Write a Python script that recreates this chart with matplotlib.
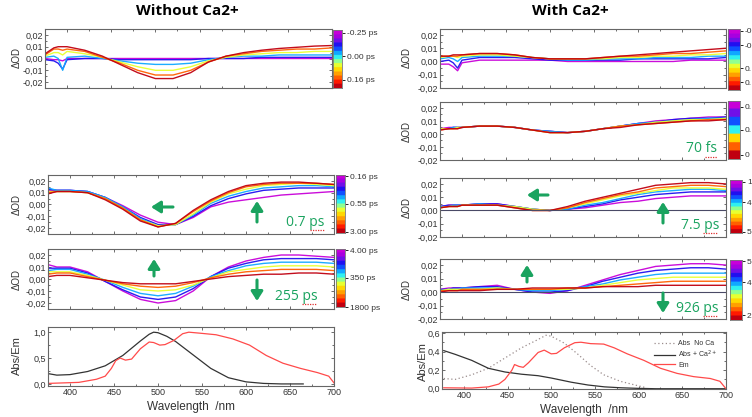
import numpy as np
import matplotlib
import matplotlib.pyplot as plt
from matplotlib.colors import ListedColormap
from matplotlib.lines import Line2D
from matplotlib.ticker import FuncFormatter, MultipleLocator

plt.rcParams['font.family'] = ['Liberation Sans', 'DejaVu Sans']

# ---- data -------------------------------------------------------------
WL = [375, 385, 390, 395, 400, 420, 440, 460, 480, 500,
      520, 540, 560, 580, 600, 620, 640, 660, 680, 700]

# transient spectra, earliest (violet) -> latest (red)
L1 = [
    [0.000, -0.001, -0.001, -0.002, 0.000, 0.000, 0.000, 0.000, 0.000, 0.000, 0.000, 0.000, 0.000, 0.000, 0.000, 0.000, 0.000, 0.000, 0.000, 0.000],
    [-0.001, -0.002, -0.004, -0.009, -0.001, 0.000, 0.000, -0.001, -0.001, -0.001, -0.001, -0.001, 0.000, 0.000, 0.000, 0.001, 0.001, 0.001, 0.001, 0.001],
    [0.001, 0.002, 0.000, -0.010, 0.001, 0.002, 0.000, -0.002, -0.004, -0.005, -0.005, -0.004, -0.001, 0.001, 0.002, 0.002, 0.003, 0.003, 0.003, 0.003],
    [0.002, 0.005, 0.005, 0.003, 0.006, 0.004, 0.001, -0.003, -0.007, -0.010, -0.010, -0.007, -0.002, 0.001, 0.003, 0.004, 0.005, 0.005, 0.006, 0.006],
    [0.003, 0.008, 0.008, 0.007, 0.008, 0.006, 0.001, -0.004, -0.010, -0.014, -0.014, -0.010, -0.003, 0.002, 0.004, 0.006, 0.007, 0.008, 0.008, 0.009],
    [0.004, 0.009, 0.010, 0.010, 0.010, 0.007, 0.002, -0.005, -0.012, -0.017, -0.017, -0.012, -0.003, 0.002, 0.005, 0.007, 0.0085, 0.0095, 0.0105, 0.011],
]
L2 = [
    [0.012, 0.012, 0.012, 0.012, 0.012, 0.011, 0.006, -0.001, -0.009, -0.015, -0.017, -0.011, -0.002, 0.002, 0.004, 0.006, 0.008, 0.009, 0.010, 0.011],
    [0.013, 0.012, 0.012, 0.012, 0.012, 0.011, 0.006, -0.002, -0.011, -0.017, -0.017, -0.010, -0.001, 0.005, 0.009, 0.012, 0.013, 0.014, 0.014, 0.014],
    [0.014, 0.012, 0.012, 0.012, 0.012, 0.011, 0.006, -0.002, -0.012, -0.018, -0.017, -0.009, 0.001, 0.007, 0.011, 0.014, 0.015, 0.016, 0.016, 0.015],
    [0.011, 0.011, 0.011, 0.011, 0.011, 0.010, 0.005, -0.003, -0.013, -0.018, -0.017, -0.008, 0.002, 0.009, 0.013, 0.016, 0.017, 0.018, 0.017, 0.016],
    [0.010, 0.011, 0.011, 0.011, 0.011, 0.010, 0.005, -0.003, -0.013, -0.019, -0.016, -0.006, 0.003, 0.010, 0.015, 0.017, 0.018, 0.018, 0.018, 0.017],
    [0.009, 0.011, 0.011, 0.011, 0.011, 0.010, 0.004, -0.004, -0.014, -0.019, -0.016, -0.005, 0.004, 0.011, 0.016, 0.018, 0.019, 0.019, 0.018, 0.017],
]
L3 = [
    [0.012, 0.010, 0.010, 0.010, 0.010, 0.006, -0.002, -0.010, -0.017, -0.020, -0.018, -0.010, 0.002, 0.010, 0.015, 0.018, 0.020, 0.020, 0.019, 0.018],
    [0.009, 0.009, 0.009, 0.009, 0.009, 0.005, -0.002, -0.009, -0.015, -0.017, -0.015, -0.008, 0.002, 0.009, 0.013, 0.016, 0.017, 0.017, 0.017, 0.016],
    [0.007, 0.008, 0.008, 0.008, 0.008, 0.004, -0.001, -0.007, -0.012, -0.014, -0.012, -0.006, 0.002, 0.007, 0.011, 0.013, 0.014, 0.014, 0.014, 0.013],
    [0.006, 0.006, 0.006, 0.006, 0.006, 0.003, -0.001, -0.005, -0.009, -0.010, -0.009, -0.005, 0.001, 0.006, 0.008, 0.010, 0.011, 0.011, 0.011, 0.010],
    [0.004, 0.005, 0.005, 0.005, 0.005, 0.002, -0.001, -0.004, -0.006, -0.007, -0.006, -0.003, 0.001, 0.004, 0.006, 0.007, 0.008, 0.008, 0.008, 0.007],
    [0.002, 0.003, 0.003, 0.003, 0.003, 0.001, -0.001, -0.003, -0.004, -0.004, -0.004, -0.002, 0.000, 0.002, 0.003, 0.004, 0.004, 0.005, 0.005, 0.004],
]
R1 = [
    [-0.002, -0.002, -0.004, -0.007, -0.001, 0.001, 0.001, 0.001, 0.001, 0.001, 0.000, 0.000, 0.000, 0.000, 0.000, 0.000, 0.000, 0.001, 0.001, 0.001],
    [0.000, 0.001, -0.001, -0.005, 0.001, 0.003, 0.003, 0.003, 0.002, 0.001, 0.001, 0.001, 0.001, 0.001, 0.002, 0.002, 0.002, 0.002, 0.002, 0.003],
    [0.002, 0.003, 0.002, 0.000, 0.003, 0.004, 0.004, 0.004, 0.003, 0.002, 0.001, 0.001, 0.002, 0.002, 0.002, 0.003, 0.003, 0.003, 0.004, 0.004],
    [0.003, 0.004, 0.004, 0.003, 0.004, 0.005, 0.005, 0.004, 0.003, 0.002, 0.002, 0.002, 0.002, 0.003, 0.003, 0.004, 0.004, 0.005, 0.005, 0.006],
    [0.004, 0.004, 0.004, 0.004, 0.005, 0.006, 0.006, 0.005, 0.003, 0.002, 0.002, 0.002, 0.003, 0.004, 0.004, 0.005, 0.006, 0.006, 0.007, 0.008],
    [0.004, 0.004, 0.005, 0.005, 0.005, 0.006, 0.006, 0.005, 0.003, 0.002, 0.002, 0.002, 0.003, 0.004, 0.005, 0.006, 0.007, 0.008, 0.009, 0.010],
]
R2 = [
    [0.004, 0.005, 0.005, 0.005, 0.005, 0.006, 0.006, 0.005, 0.003, 0.002, 0.001, 0.002, 0.004, 0.006, 0.008, 0.010, 0.011, 0.012, 0.013, 0.013],
    [0.004, 0.004, 0.005, 0.005, 0.005, 0.006, 0.006, 0.005, 0.003, 0.002, 0.001, 0.002, 0.004, 0.006, 0.008, 0.009, 0.011, 0.012, 0.012, 0.013],
    [0.004, 0.004, 0.005, 0.005, 0.005, 0.006, 0.006, 0.005, 0.003, 0.002, 0.001, 0.002, 0.004, 0.006, 0.008, 0.009, 0.010, 0.011, 0.012, 0.012],
    [0.004, 0.004, 0.004, 0.005, 0.005, 0.006, 0.006, 0.005, 0.003, 0.001, 0.001, 0.002, 0.004, 0.006, 0.007, 0.009, 0.010, 0.011, 0.011, 0.012],
    [0.003, 0.004, 0.004, 0.004, 0.005, 0.006, 0.006, 0.005, 0.003, 0.001, 0.001, 0.002, 0.004, 0.006, 0.007, 0.008, 0.009, 0.010, 0.011, 0.011],
    [0.003, 0.004, 0.004, 0.004, 0.005, 0.006, 0.006, 0.005, 0.003, 0.001, 0.001, 0.002, 0.004, 0.005, 0.007, 0.008, 0.009, 0.010, 0.010, 0.011],
]
R3 = [
    [0.003, 0.004, 0.004, 0.004, 0.004, 0.005, 0.005, 0.003, 0.001, 0.000, 0.001, 0.002, 0.004, 0.006, 0.007, 0.009, 0.010, 0.011, 0.011, 0.011],
    [0.003, 0.004, 0.004, 0.004, 0.004, 0.005, 0.005, 0.003, 0.001, 0.000, 0.001, 0.003, 0.005, 0.008, 0.010, 0.012, 0.013, 0.014, 0.014, 0.014],
    [0.003, 0.003, 0.004, 0.004, 0.004, 0.005, 0.004, 0.003, 0.001, 0.000, 0.001, 0.004, 0.006, 0.009, 0.012, 0.014, 0.015, 0.016, 0.016, 0.015],
    [0.002, 0.003, 0.003, 0.003, 0.004, 0.004, 0.004, 0.003, 0.001, 0.000, 0.002, 0.005, 0.008, 0.011, 0.013, 0.015, 0.017, 0.017, 0.017, 0.016],
    [0.002, 0.003, 0.003, 0.003, 0.004, 0.004, 0.004, 0.002, 0.000, 0.000, 0.002, 0.006, 0.009, 0.012, 0.014, 0.017, 0.018, 0.019, 0.019, 0.018],
    [0.002, 0.003, 0.003, 0.003, 0.004, 0.004, 0.004, 0.002, 0.000, 0.000, 0.003, 0.007, 0.010, 0.013, 0.016, 0.019, 0.020, 0.021, 0.021, 0.020],
]
R4 = [
    [0.002, 0.003, 0.003, 0.003, 0.003, 0.004, 0.005, 0.002, 0.000, -0.001, 0.001, 0.005, 0.009, 0.013, 0.016, 0.019, 0.020, 0.021, 0.021, 0.020],
    [0.002, 0.002, 0.003, 0.003, 0.003, 0.004, 0.004, 0.002, 0.000, 0.000, 0.001, 0.004, 0.008, 0.011, 0.014, 0.016, 0.017, 0.018, 0.018, 0.017],
    [0.001, 0.002, 0.002, 0.002, 0.003, 0.003, 0.003, 0.002, 0.001, 0.001, 0.002, 0.004, 0.006, 0.009, 0.011, 0.013, 0.014, 0.014, 0.014, 0.014],
    [0.001, 0.002, 0.002, 0.002, 0.002, 0.002, 0.003, 0.002, 0.002, 0.002, 0.002, 0.003, 0.005, 0.007, 0.009, 0.010, 0.011, 0.011, 0.011, 0.011],
    [0.001, 0.001, 0.001, 0.001, 0.002, 0.002, 0.002, 0.002, 0.002, 0.002, 0.003, 0.003, 0.004, 0.005, 0.006, 0.007, 0.008, 0.008, 0.008, 0.008],
    [0.000, 0.001, 0.001, 0.001, 0.001, 0.001, 0.002, 0.002, 0.003, 0.003, 0.003, 0.003, 0.004, 0.004, 0.004, 0.005, 0.005, 0.005, 0.005, 0.005],
]

# steady state spectra
ABS_WL = [375, 385, 400, 420, 440, 460, 480, 490, 495, 500, 510, 520, 540, 560, 580, 600, 620, 640, 665]
ABS = [0.20, 0.17, 0.18, 0.24, 0.35, 0.55, 0.83, 0.96, 1.00, 0.99, 0.92, 0.82, 0.56, 0.30, 0.12, 0.04, 0.01, 0.00, 0.00]
EM_WL = [375, 410, 430, 440, 447, 452, 457, 463, 470, 480, 490, 495, 502, 508, 518, 528, 535,
         548, 566, 585, 604, 623, 642, 662, 681, 694, 700]
EM = [0.01, 0.03, 0.09, 0.15, 0.30, 0.45, 0.50, 0.46, 0.48, 0.68, 0.81, 0.80, 0.75, 0.76, 0.84, 0.97, 1.00,
      0.98, 0.95, 0.87, 0.75, 0.55, 0.40, 0.30, 0.22, 0.15, 0.02]

CA_WL = [377, 390, 409, 428, 447, 466, 485, 500, 523, 542, 561, 580, 599, 620, 700]
ABS_CA = [0.41, 0.37, 0.305, 0.22, 0.18, 0.156, 0.14, 0.115, 0.07, 0.04, 0.02, 0.01, 0.004, 0.0, 0.0]
NOCA_WL = [377, 390, 409, 428, 447, 466, 485, 494, 500, 515, 530, 545, 560, 579, 598, 609]
ABS_NOCA = [0.11, 0.10, 0.15, 0.22, 0.33, 0.44, 0.53, 0.575, 0.565, 0.49, 0.375, 0.25, 0.15, 0.08, 0.035, 0.01]
EMCA_WL = [377, 409, 428, 440, 447, 455, 458, 463, 468, 474, 485, 492, 500, 506, 515, 527, 534,
           545, 560, 572, 587, 606, 625, 644, 663, 682, 693, 700]
EM_CA = [0.01, 0.007, 0.02, 0.05, 0.10, 0.20, 0.26, 0.24, 0.23, 0.28, 0.39, 0.415, 0.375, 0.38, 0.44, 0.495, 0.50,
         0.485, 0.48, 0.44, 0.375, 0.305, 0.22, 0.165, 0.13, 0.11, 0.08, 0.0]

# colour-bar labels (right column ones are cut by the page edge in the source)
CB_LABELS = {
    'L1': ['-0.25 ps', '0.00 ps', '0.16 ps'],
    'L2': ['0.16 ps', '0.55 ps', '3.00 ps'],
    'L3': ['4.00 ps', '350 ps', '1800 ps'],
    'R1': ['-0', '-0', '0.', '0.'],
    'R2': ['0.', '0.', '0'],
    'R3': ['1', '4', '5'],
    'R4': ['5', '4', '2'],
}

# ---- style ------------------------------------------------------------
W, H = 752, 417
GREEN = '#1aa35f'
TXT = '#333333'
CB_COLORS = ['#c00010', '#ff1a00', '#ff6000', '#ffa000', '#ffd800', '#e8ff30', '#90ff90',
             '#30f0f0', '#10a8ff', '#1050ff', '#2010f0', '#7010e8', '#a800e0', '#c800d8']
cmap = ListedColormap(CB_COLORS)
CURVE_POS = [1.0, 0.78, 0.58, 0.36, 0.2, 0.0]

fig = plt.figure(figsize=(W / 100, H / 100), dpi=100)


def box(l, t, r, b):
    return [l / W, 1 - b / H, (r - l) / W, (b - t) / H]


def comma(fmt):
    def f(v, p):
        if abs(v) < 1e-9:
            v = 0.0
        return (fmt % v).replace('.', ',')
    return FuncFormatter(f)


def style(ax, ylim, yfmt, ystep, yminor):
    ax.set_xlim(375, 700)
    ax.set_ylim(*ylim)
    ax.xaxis.set_major_locator(MultipleLocator(50))
    ax.xaxis.set_minor_locator(MultipleLocator(25))
    ax.yaxis.set_major_locator(MultipleLocator(ystep))
    ax.yaxis.set_minor_locator(MultipleLocator(yminor))
    ax.yaxis.set_major_formatter(comma(yfmt))
    ax.tick_params(which='both', direction='in', top=True, right=True,
                   labelsize=6.5, colors='#555555', labelcolor=TXT, length=2.5, width=0.6, pad=1.5)
    ax.tick_params(which='minor', length=1.5)
    for s in ax.spines.values():
        s.set_color('#666666')
        s.set_linewidth(0.8)


def dod_panel(rect, curves, ylim, zero=False):
    ax = fig.add_axes(box(*rect))
    for c, pos in zip(curves, CURVE_POS):
        ax.plot(WL, c, color=cmap(pos), lw=1.0, alpha=0.95)
    if zero:
        ax.axhline(0, color='#4a4a66', lw=0.8)
    style(ax, ylim, '%.2f', 0.01, 0.005)
    ax.tick_params(labelbottom=False)
    return ax


def colorbar(rect, labels, pos, nblocks=14):
    cax = fig.add_axes(box(*rect))
    cm = cmap.resampled(nblocks)
    cax.imshow(np.linspace(0, 1, 200)[:, None], aspect='auto', cmap=cm,
               origin='lower', extent=[0, 1, 0, 1])
    cax.set_xticks([])
    cax.yaxis.tick_right()
    cax.set_yticks(pos)
    cax.set_yticklabels(labels)
    cax.tick_params(axis='y', labelsize=6, labelcolor=TXT, length=2, width=0.6, pad=1.5)
    for s in cax.spines.values():
        s.set_color('#777777')
        s.set_linewidth(0.6)


def ylab(x, y, s, size=7):
    fig.text(x / W, 1 - y / H, s, rotation=90, ha='center', va='center', fontsize=size, color=TXT)


def arrow(x0, y0, x1, y1):
    fig.add_artist(matplotlib.patches.FancyArrowPatch(
        (x0 / W, 1 - y0 / H), (x1 / W, 1 - y1 / H), transform=fig.transFigure,
        arrowstyle='-|>,head_width=0.35,head_length=0.55', mutation_scale=10,
        color=GREEN, lw=2.2, shrinkA=0, shrinkB=0))


def gtext(x, y, s, sq):
    fig.text(x / W, 1 - y / H, s, ha='center', va='center', fontsize=10, color=GREEN, family='Open Sans')
    # red spell-check squiggle under the unit
    x0, x1, ys = sq
    fig.add_artist(Line2D([x0 / W, x1 / W], [1 - ys / H, 1 - ys / H], transform=fig.transFigure,
                          color='#e03030', lw=0.9, ls=(0, (1, 1))))


# ---- titles ------------------------------------------------------------
fig.text(187 / W, 1 - 11 / H, 'Without Ca2+', ha='center', va='center', fontsize=11,
         fontweight='bold', family='Open Sans')
fig.text(570 / W, 1 - 11 / H, 'With Ca2+', ha='center', va='center', fontsize=11,
         fontweight='bold', family='Open Sans')

# ---- left column -------------------------------------------------------
dod_panel((45, 29, 332, 88), L1, (-0.025, 0.025))
colorbar((333, 30, 342, 88), CB_LABELS['L1'], [0.95, 0.55, 0.14])
dod_panel((48, 175, 334, 234), L2, (-0.025, 0.025))
colorbar((336, 175, 345, 233), CB_LABELS['L2'], [0.98, 0.5, 0.02])
dod_panel((48, 249, 334, 309), L3, (-0.025, 0.025))
colorbar((336, 249, 345, 307), CB_LABELS['L3'], [0.98, 0.5, 0.0])
for yc in (58, 204, 279):
    ylab(17, yc, 'ΔOD')

ax = fig.add_axes(box(48, 327, 334, 386))
ax.plot(ABS_WL, ABS, color='#333333', lw=0.9)
ax.plot(EM_WL, EM, color='#ff4a4a', lw=0.9)
style(ax, (-0.04, 1.1), '%.1f', 0.5, 0.25)
ax.set_xlabel('Wavelength  /nm', fontsize=8.5, color=TXT, labelpad=3)
ylab(17, 356, 'Abs/Em', 8)

# ---- right column ------------------------------------------------------
dod_panel((440, 29, 726, 88), R1, (-0.02, 0.0245))
colorbar((728, 29, 740, 90), CB_LABELS['R1'], [0.97, 0.73, 0.36, 0.13])
dod_panel((440, 102, 726, 160), R2, (-0.02, 0.0245))
colorbar((728, 101, 740, 159), CB_LABELS['R2'], [0.9, 0.5, 0.07], nblocks=7)
dod_panel((440, 178, 726, 237), R3, (-0.02, 0.0245), zero=True)
colorbar((730, 180, 742, 233), CB_LABELS['R3'], [0.97, 0.58, 0.02])
dod_panel((440, 259, 726, 319), R4, (-0.02, 0.0245), zero=True)
colorbar((730, 260, 742, 320), CB_LABELS['R4'], [0.98, 0.63, 0.08])
for yc in (58, 131, 207, 289):
    ylab(407, yc, 'ΔOD')

ax = fig.add_axes(box(442, 332, 726, 389))
ax.plot(NOCA_WL, ABS_NOCA, color='#9a8c8c', lw=0.9, ls=(0, (1, 2)), label='Abs  No Ca')
ax.plot(CA_WL, ABS_CA, color='#333333', lw=0.9, label='Abs + Ca$^{2+}$')
ax.plot(EMCA_WL, EM_CA, color='#ff4a4a', lw=0.9, label='Em')
style(ax, (-0.003, 0.61), '%.1f', 0.2, 0.1)
ax.set_xlabel('Wavelength  /nm', fontsize=8.5, color=TXT, labelpad=3)
ax.legend(loc='upper right', bbox_to_anchor=(0.99, 0.97), fontsize=5, frameon=False,
          handlelength=3, labelspacing=0.25, handletextpad=0.5, labelcolor=TXT)
ylab(423, 362, 'Abs/Em', 8)

# ---- annotations ---------------------------------------------------------
arrow(173, 207, 151, 207)
arrow(257, 222, 257, 201)
gtext(305, 222, '0.7 ps', (310, 325, 230))
arrow(154, 276, 154, 259)
arrow(257, 280, 257, 301)
gtext(296, 296, '255 ps', (302, 317, 304))
gtext(702, 149, '70 fs', (705, 717, 157))
arrow(548, 195, 527, 195)
arrow(663, 223, 663, 202)
gtext(700, 226, '7.5 ps', (703, 717, 233))
arrow(527, 282, 527, 265)
arrow(663, 293, 663, 313)
gtext(697, 309, '926 ps', (703, 717, 316))

fig.savefig('out.png', dpi=100)
